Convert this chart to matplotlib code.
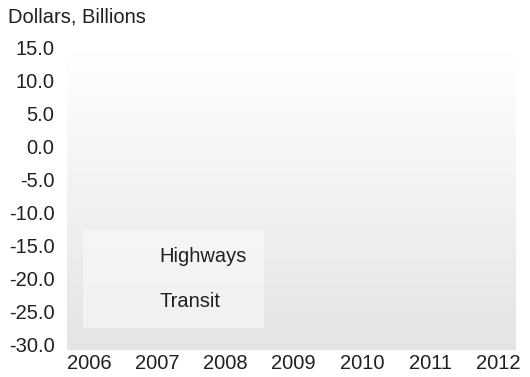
import numpy as np
import matplotlib
matplotlib.use("Agg")
import matplotlib.pyplot as plt
from matplotlib.colors import LinearSegmentedColormap
from matplotlib.transforms import ScaledTranslation

plt.rcParams['font.family'] = ['Liberation Sans', 'DejaVu Sans']

years = [2006, 2007, 2008, 2009, 2010, 2011, 2012]
y_ticks = [15.0, 10.0, 5.0, 0.0, -5.0, -10.0, -15.0, -20.0, -25.0, -30.0]
series_names = ["Highways", "Transit"]
highways = []  # no visible values in the reference
transit = []

FS = 14.5

fig = plt.figure(figsize=(5.30, 3.77), dpi=100)
ax = fig.add_axes([67/530, 1-350/377, (516-67)/530, 300/377])

# gradient background
cmap = LinearSegmentedColormap.from_list("bg", ["#ffffff", "#e4e4e6"])
grad = np.linspace(0, 1, 256).reshape(-1, 1)
ax.imshow(grad, aspect='auto', cmap=cmap, extent=[0, 1, 0, 1],
          transform=ax.transAxes, origin='upper', zorder=0)

l1, = ax.plot(years[:len(highways)], highways, label=series_names[0], color='none')
l2, = ax.plot(years[:len(transit)], transit, label=series_names[1], color='none')

ax.set_xlim(2005.68, 2012.26)
ax.set_ylim(-30.5, 14.5)
ax.set_xticks(years)
ax.set_xticklabels([str(y) for y in years])
ax.set_yticks(y_ticks)
ax.set_yticklabels([f"{v:.1f}" for v in y_ticks])
ax.tick_params(axis='y', length=0, labelsize=FS, colors='#231f20', pad=9)
ax.tick_params(axis='x', length=0, labelsize=FS, colors='#231f20', pad=3)
shift = ScaledTranslation(0, 2.5/100, fig.dpi_scale_trans)
for lab in ax.get_yticklabels():
    lab.set_transform(lab.get_transform() + shift)
for s in ax.spines.values():
    s.set_visible(False)

leg = ax.legend(loc='upper left', bbox_to_anchor=((83-67)/449, (350-230)/300),
                frameon=True, fontsize=FS, handlelength=2.45, handletextpad=0.5,
                labelspacing=1.3, borderpad=0.85, borderaxespad=0)
leg.get_frame().set_facecolor('white')
leg.get_frame().set_alpha(0.45)
leg.get_frame().set_edgecolor('none')
leg.get_frame().set_boxstyle('square', pad=0)
for t in leg.get_texts():
    t.set_color('#231f20')

fig.text(8/530, 1-17/377, "Dollars, Billions", fontsize=FS, color='#231f20',
         ha='left', va='center')

fig.savefig("out.png", dpi=100)
